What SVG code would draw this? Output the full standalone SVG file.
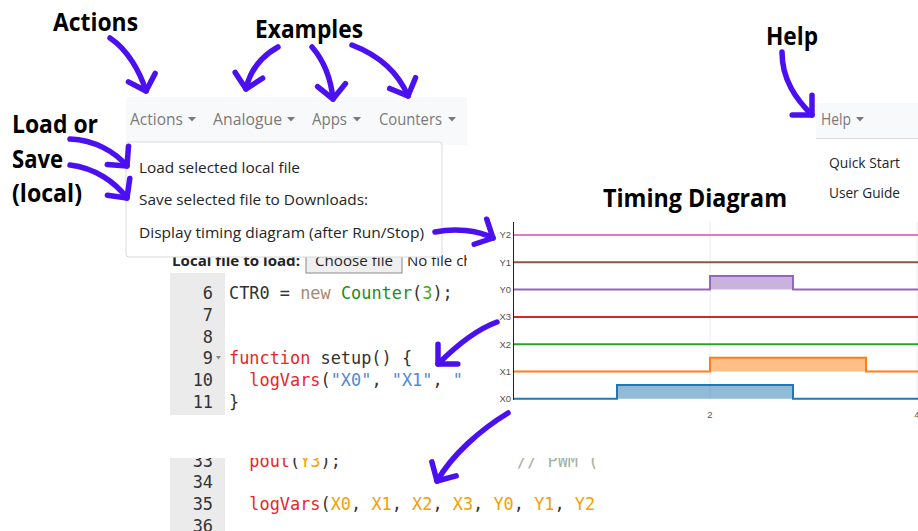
<svg xmlns="http://www.w3.org/2000/svg" width="918" height="531" viewBox="0 0 918 531">
<style>
  .ann{font-family:"Open Sans","Noto Sans",sans-serif;font-weight:700;font-size:25px;fill:#000}
  .nav{font-family:"Open Sans","Noto Sans",sans-serif;font-size:15.5px;fill:#7a7a7a}
  .item{font-family:"Open Sans","Noto Sans",sans-serif;font-size:15px;fill:#212529}
  .code{font-family:"DejaVu Sans Mono","Liberation Mono",monospace;font-size:16.9px;fill:#333}
  .ln{font-family:"DejaVu Sans Mono","Liberation Mono",monospace;font-size:16.9px;fill:#333;text-anchor:end}
  .kw{fill:#e8262b}.str{fill:#4f8ad6}.var{fill:#f5a000}.nw{fill:#a8896a}.cls{fill:#1f8c1f}.num{fill:#44aa22}.cmt{fill:#a3b3a3}
  .tl{font-family:"Liberation Sans","Open Sans",sans-serif;font-size:9.5px;fill:#555;text-anchor:end}
  .tk{font-family:"Liberation Sans","Open Sans",sans-serif;font-size:9.5px;fill:#555;text-anchor:middle}
  .arrow{fill:none;stroke:#4b10f2;stroke-width:5.5;stroke-linecap:round;stroke-linejoin:round}
  .caret{fill:#7a7a7a}
  .sig{fill:none;stroke-width:2}
</style>
<defs>
  <marker id="head" markerUnits="userSpaceOnUse" orient="auto" refX="0" refY="0" markerWidth="40" markerHeight="40" viewBox="-20 -20 40 40" overflow="visible">
    <path d="M-14,-14 L0,0 L-14,14" fill="none" stroke="#4b10f2" stroke-width="5.5" stroke-linecap="round" stroke-linejoin="round"/>
  </marker>
  <clipPath id="clipTop"><rect x="170" y="273" width="297" height="142"/></clipPath>
  <clipPath id="clipBot"><rect x="170" y="458" width="426" height="73"/></clipPath>
  <clipPath id="clipFile"><rect x="300" y="240" width="167" height="40"/></clipPath>
</defs>
<rect width="918" height="531" fill="#fff"/>

<g id="navbar">
  <rect x="126" y="97" width="341" height="48" fill="#f8f9fa"/>
  <text class="nav" x="130" y="125" textLength="53" lengthAdjust="spacingAndGlyphs">Actions</text>
  <polygon class="caret" points="188,117 196,117 192,121.5"/>
  <text class="nav" x="213" y="125" textLength="69" lengthAdjust="spacingAndGlyphs">Analogue</text>
  <polygon class="caret" points="287,117 295,117 291,121.5"/>
  <text class="nav" x="312" y="125" textLength="35" lengthAdjust="spacingAndGlyphs">Apps</text>
  <polygon class="caret" points="353,117 361,117 357,121.5"/>
  <text class="nav" x="379" y="125" textLength="63" lengthAdjust="spacingAndGlyphs">Counters</text>
  <polygon class="caret" points="448,117 456,117 452,121.5"/>
</g>

<g id="help-menu">
  <rect x="816" y="103" width="102" height="35" fill="#f8f9fa"/>
  <line x1="816" y1="138.5" x2="918" y2="138.5" stroke="#dcdcdc" stroke-width="1"/>
  <text class="nav" x="821" y="125" textLength="30" lengthAdjust="spacingAndGlyphs">Help</text>
  <polygon class="caret" points="856,117 864,117 860,121.5"/>
  <text class="item" x="829" y="168" font-size="14" textLength="71" lengthAdjust="spacingAndGlyphs">Quick Start</text>
  <text class="item" x="829" y="198" font-size="14" textLength="71" lengthAdjust="spacingAndGlyphs">User Guide</text>
</g>

<g id="file-row">
  <text class="item" x="172" y="265.5" font-weight="700" textLength="128" lengthAdjust="spacingAndGlyphs">Local file to load:</text>
  <rect x="306" y="246" width="96" height="27" fill="#efefef" stroke="#8a8a8a" stroke-width="1"/>
  <text class="item" x="315" y="265.5" fill="#000" textLength="78" lengthAdjust="spacingAndGlyphs">Choose file</text>
  <g clip-path="url(#clipFile)">
    <text class="item" x="407" y="265.5" fill="#000">No file ch</text>
  </g>
</g>

<g id="editor-top">
  <rect x="170" y="273" width="55" height="142" fill="#ebebeb"/>
  <g clip-path="url(#clipTop)">
    <text class="ln" x="213" y="299">6</text>
    <text class="ln" x="213" y="320.75">7</text>
    <text class="ln" x="213" y="342.5">8</text>
    <text class="ln" x="213" y="364.25">9</text>
    <text class="ln" x="213" y="386">10</text>
    <text class="ln" x="213" y="407.75">11</text>
    <polygon points="216,356 221,356 218.5,359.5" fill="#888"/>
    <text class="code" x="229" y="299" xml:space="preserve">CTR0 = <tspan class="nw">new</tspan> <tspan class="cls">Counter</tspan>(<tspan class="num">3</tspan>);</text>
    <text class="code" x="229" y="364.25" xml:space="preserve"><tspan class="kw">function</tspan> setup() {</text>
    <text class="code" x="229" y="386" xml:space="preserve">  <tspan class="kw">logVars</tspan>(<tspan class="str">"X0"</tspan>, <tspan class="str">"X1"</tspan>, <tspan class="str">"</tspan></text>
    <text class="code" x="229" y="407.75">}</text>
  </g>
</g>

<g id="editor-bottom">
  <rect x="170" y="458" width="55" height="73" fill="#ebebeb"/>
  <g clip-path="url(#clipBot)">
    <text class="ln" x="213" y="466.5">33</text>
    <text class="ln" x="213" y="488.25">34</text>
    <text class="ln" x="213" y="510">35</text>
    <text class="ln" x="213" y="531.75">36</text>
    <text class="code" x="229" y="466.5" xml:space="preserve">  <tspan class="kw">pout</tspan>(<tspan class="var">Y3</tspan>);</text>
    <text class="code cmt" x="517" y="466.5">// PWM (</text>
    <text class="code" x="229" y="510" xml:space="preserve">  <tspan class="kw">logVars</tspan>(<tspan class="var">X0</tspan>, <tspan class="var">X1</tspan>, <tspan class="var">X2</tspan>, <tspan class="var">X3</tspan>, <tspan class="var">Y0</tspan>, <tspan class="var">Y1</tspan>, <tspan class="var">Y2</tspan></text>
  </g>
</g>

<g id="dropdown">
  <rect x="126" y="142" width="316" height="115" rx="3" fill="#fff" stroke="#d9d9d9" stroke-width="1"/>
  <text class="item" x="139" y="173" textLength="161" lengthAdjust="spacingAndGlyphs">Load selected local file</text>
  <text class="item" x="139" y="205" textLength="229" lengthAdjust="spacingAndGlyphs">Save selected file to Downloads:</text>
  <text class="item" x="139" y="238" textLength="285" lengthAdjust="spacingAndGlyphs">Display timing diagram (after Run/Stop)</text>
</g>

<g id="timing-diagram">
  <rect x="468" y="214" width="450" height="212" fill="#fff"/>
  <line x1="710" y1="222" x2="710" y2="400" stroke="#ececec" stroke-width="1"/>
  <line x1="917" y1="222" x2="917" y2="400" stroke="#ececec" stroke-width="1"/>
  <polygon points="710,289.6 710,276 793,276 793,289.6" fill="#9467bd" fill-opacity="0.5"/>
  <polygon points="710,371.5 710,357.8 866,357.8 866,371.5" fill="#ff7f0e" fill-opacity="0.5"/>
  <polygon points="617,398.8 617,385.1 793,385.1 793,398.8" fill="#1f77b4" fill-opacity="0.5"/>
  <line class="sig" x1="513" y1="235" x2="918" y2="235" stroke="#e377c2"/>
  <line class="sig" x1="513" y1="262.3" x2="918" y2="262.3" stroke="#8c564b"/>
  <polyline class="sig" points="513,289.6 710,289.6 710,276 793,276 793,289.6 918,289.6" stroke="#9467bd"/>
  <line class="sig" x1="513" y1="316.9" x2="918" y2="316.9" stroke="#d62728"/>
  <line class="sig" x1="513" y1="344.2" x2="918" y2="344.2" stroke="#2ca02c"/>
  <polyline class="sig" points="513,371.5 710,371.5 710,357.8 866,357.8 866,371.5 918,371.5" stroke="#ff7f0e"/>
  <polyline class="sig" points="513,398.8 617,398.8 617,385.1 793,385.1 793,398.8 918,398.8" stroke="#1f77b4"/>
  <line x1="513.5" y1="222" x2="513.5" y2="400" stroke="#222" stroke-width="1"/>
  <text class="tl" x="511" y="238.3">Y2</text>
  <text class="tl" x="511" y="265.6">Y1</text>
  <text class="tl" x="511" y="292.9">Y0</text>
  <text class="tl" x="511" y="320.2">X3</text>
  <text class="tl" x="511" y="347.5">X2</text>
  <text class="tl" x="511" y="374.8">X1</text>
  <text class="tl" x="511" y="402.1">X0</text>
  <text class="tk" x="710" y="418">2</text>
  <text class="tk" x="917" y="418">4</text>
</g>

<g id="label-actions"><text class="ann" x="53" y="31" textLength="85" lengthAdjust="spacingAndGlyphs">Actions</text></g>
<g id="label-examples"><text class="ann" x="255" y="38" textLength="108" lengthAdjust="spacingAndGlyphs">Examples</text></g>
<g id="label-help"><text class="ann" x="766" y="45" textLength="52" lengthAdjust="spacingAndGlyphs">Help</text></g>
<g id="label-load-save">
  <text class="ann" x="12" y="133" textLength="86" lengthAdjust="spacingAndGlyphs">Load or</text>
  <text class="ann" x="12" y="168" textLength="51" lengthAdjust="spacingAndGlyphs">Save</text>
  <text class="ann" x="12" y="202" textLength="70" lengthAdjust="spacingAndGlyphs">(local)</text>
</g>
<g id="label-timing"><text class="ann" x="603" y="207" font-size="26.5" textLength="184" lengthAdjust="spacingAndGlyphs">Timing Diagram</text></g>

<g id="connectors">
  <path class="arrow" marker-end="url(#head)" d="M110,38 C128,50 140,72 146,91"/>
  <path class="arrow" marker-end="url(#head)" d="M278,47 C262,56 250,70 246,89"/>
  <path class="arrow" marker-end="url(#head)" d="M312,47 C325,62 331,80 333,99"/>
  <path class="arrow" marker-end="url(#head)" d="M352,45 C378,55 398,72 408,96"/>
  <path class="arrow" marker-end="url(#head)" d="M782,52 C782,80 796,99 812,115"/>
  <path class="arrow" marker-end="url(#head)" d="M70,139 C95,140 115,152 127,166"/>
  <path class="arrow" marker-end="url(#head)" d="M70,165 C95,168 115,182 127,198"/>
  <path class="arrow" marker-end="url(#head)" d="M435,232 C455,228 477,230 493,238"/>
  <path class="arrow" marker-end="url(#head)" d="M497,322 C475,330 455,347 438,364"/>
  <path class="arrow" marker-end="url(#head)" d="M508,413 C480,430 452,455 437,481"/>
</g>
</svg>
